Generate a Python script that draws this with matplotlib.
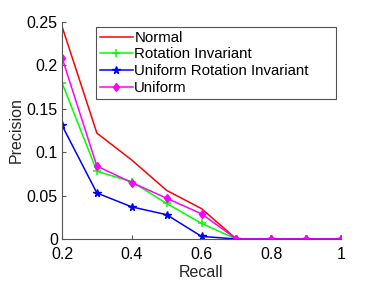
import matplotlib
matplotlib.use("Agg")
import matplotlib.pyplot as plt

recall = [0.2, 0.3, 0.4, 0.5, 0.6, 0.7, 0.8, 0.9, 1.0]
normal = [0.245, 0.122, 0.091, 0.056, 0.035, 0, 0, 0, 0]
rot_inv = [0.180, 0.078, 0.066, 0.041, 0.018, 0, 0, 0, 0]
uni_rot_inv = [0.131, 0.053, 0.037, 0.028, 0.003, 0, 0, 0, 0]
uniform = [0.209, 0.084, 0.065, 0.047, 0.029, 0, 0, 0, 0]

plt.rcParams['font.family'] = ['Liberation Sans', 'DejaVu Sans']
fig = plt.figure(figsize=(3.74, 2.85), dpi=100)
W, H = 374, 285
ax = fig.add_axes([62/W, 1-239/H, (341-62)/W, (239-22)/H])

ax.plot(recall, normal, color='#ff0000', lw=1.1, label='Normal')
ax.plot(recall, rot_inv, color='#00ff00', lw=1.1, marker='+', ms=6, mew=1.1, label='Rotation Invariant')
ax.plot(recall, uni_rot_inv, color='#0000ff', lw=1.1, marker='*', ms=5.5, label='Uniform Rotation Invariant')
ax.plot(recall, uniform, color='#ff00ff', lw=1.1, marker='d', ms=4.5, label='Uniform')

ax.set_xlim(0.2, 1.0)
ax.set_ylim(0, 0.25)
ax.set_xticks([0.2, 0.4, 0.6, 0.8, 1.0])
ax.set_xticklabels(['0.2', '0.4', '0.6', '0.8', '1'])
ax.set_yticks([0, 0.05, 0.1, 0.15, 0.2, 0.25])
ax.set_yticklabels(['0', '0.05', '0.1', '0.15', '0.2', '0.25'])
ax.tick_params(labelsize=11.5, direction='in', length=3, color='#555555')
ax.tick_params(axis='x', pad=6)
ax.tick_params(axis='y', pad=3)
ax.spines['top'].set_visible(False)
ax.spines['right'].set_visible(False)
for s in ['left', 'bottom']:
    ax.spines[s].set_color('#555555')
ax.set_xlabel('Recall', fontsize=11.5, labelpad=2, color='#262626')
ax.set_ylabel('Precision', fontsize=11.5, labelpad=2, color='#262626')

x0 = (96-62)/279
y1 = 1-(27-22)/217
y0 = 1-(98-22)/217
w = (336-96)/279
leg = ax.legend(loc='upper left', bbox_to_anchor=(x0, y0, w, y1-y0), mode='expand', fontsize=10.8,
                frameon=True, fancybox=False, edgecolor='#262626', handlelength=2.2,
                handletextpad=0.1, borderpad=0.25, labelspacing=0.18, borderaxespad=0)
leg.get_frame().set_linewidth(0.8)

fig.savefig('out.png', dpi=100)
